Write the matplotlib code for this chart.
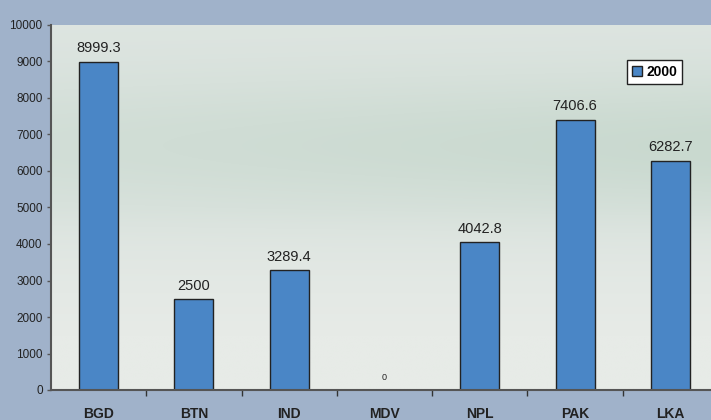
import numpy as np
import matplotlib.pyplot as plt
from matplotlib.patches import Patch

countries = ['BGD', 'BTN', 'IND', 'MDV', 'NPL', 'PAK', 'LKA']
values_2000 = [8999.3, 2500, 3289.4, 0, 4042.8, 7406.6, 6282.7]
value_labels = ['8999.3', '2500', '3289.4', '0', '4042.8', '7406.6', '6282.7']
series_name = '2000'

plt.rcParams['font.family'] = ['Liberation Sans', 'DejaVu Sans']

fig = plt.figure(figsize=(7.11, 4.20), dpi=100)
fig.patch.set_facecolor('#A0B2CA')

W, H = 711, 420
ax = fig.add_axes([51 / W, 30 / H, 667 / W, 365 / H])

# soft green-grey backdrop for the plot area
rows, cols = 200, 300
yy, xx = np.mgrid[0:1:rows * 1j, 0:1:cols * 1j]
top = np.array([0xDE, 0xE5, 0xE1]) / 255
mid = np.array([0xC9, 0xD9, 0xCF]) / 255
low = np.array([0xE7, 0xEB, 0xE7]) / 255
t_mid = np.exp(-((yy - 0.33) / 0.2) ** 2) * (0.6 + 0.4 * xx)
t_low = np.clip((yy - 0.5) / 0.35, 0, 1)
img = top[None, None, :] * (1 - t_mid[..., None]) + mid[None, None, :] * t_mid[..., None]
img = img * (1 - t_low[..., None]) + low[None, None, :] * t_low[..., None]
ax.imshow(img, extent=[0, 1, 0, 1], transform=ax.transAxes, aspect='auto',
          zorder=0, interpolation='bilinear')

x = np.arange(len(countries))
ax.bar(x, values_2000, width=0.41, color='#4A86C6', edgecolor='#222222',
       linewidth=1.0, zorder=2)

for xi, v, lab in zip(x, values_2000, value_labels):
    size = 6.5 if v == 0 else 10.5
    off = 6 if v == 0 else 4.5
    ax.annotate(lab, (xi, v), xytext=(0, off), textcoords='offset points',
                ha='center', va='bottom', fontsize=size, color='#222222')

ax.set_xlim(-0.5, len(countries) - 0.5)
ax.set_ylim(0, 10000)
ax.set_yticks(np.arange(0, 10001, 1000))
ax.tick_params(axis='y', labelsize=8.5, length=3, width=1, color='#555555',
               labelcolor='#222222', pad=3)
ax.set_xticks(x)
ax.set_xticklabels(countries, fontweight='bold', fontsize=10, color='#222222')
ax.tick_params(axis='x', length=0, pad=12)
ax.set_xticks(x[:-1] + 0.5, minor=True)
ax.tick_params(axis='x', which='minor', length=4, width=1, color='#333333')

for side in ['top', 'right']:
    ax.spines[side].set_visible(False)
for side in ['left', 'bottom']:
    ax.spines[side].set_color('#555555')
    ax.spines[side].set_linewidth(1.5)

leg = ax.legend(handles=[Patch(facecolor='#4A86C6', edgecolor='#222222', label=series_name)],
                loc='upper right', bbox_to_anchor=(0.946, 0.904), borderaxespad=0,
                fancybox=False, framealpha=1, edgecolor='#222222',
                handlelength=0.7, handleheight=0.7, handletextpad=0.3, borderpad=0.35,
                prop={'weight': 'bold', 'size': 10})
leg.get_frame().set_linewidth(1.0)

fig.savefig('out.png', dpi=100, facecolor=fig.get_facecolor())
